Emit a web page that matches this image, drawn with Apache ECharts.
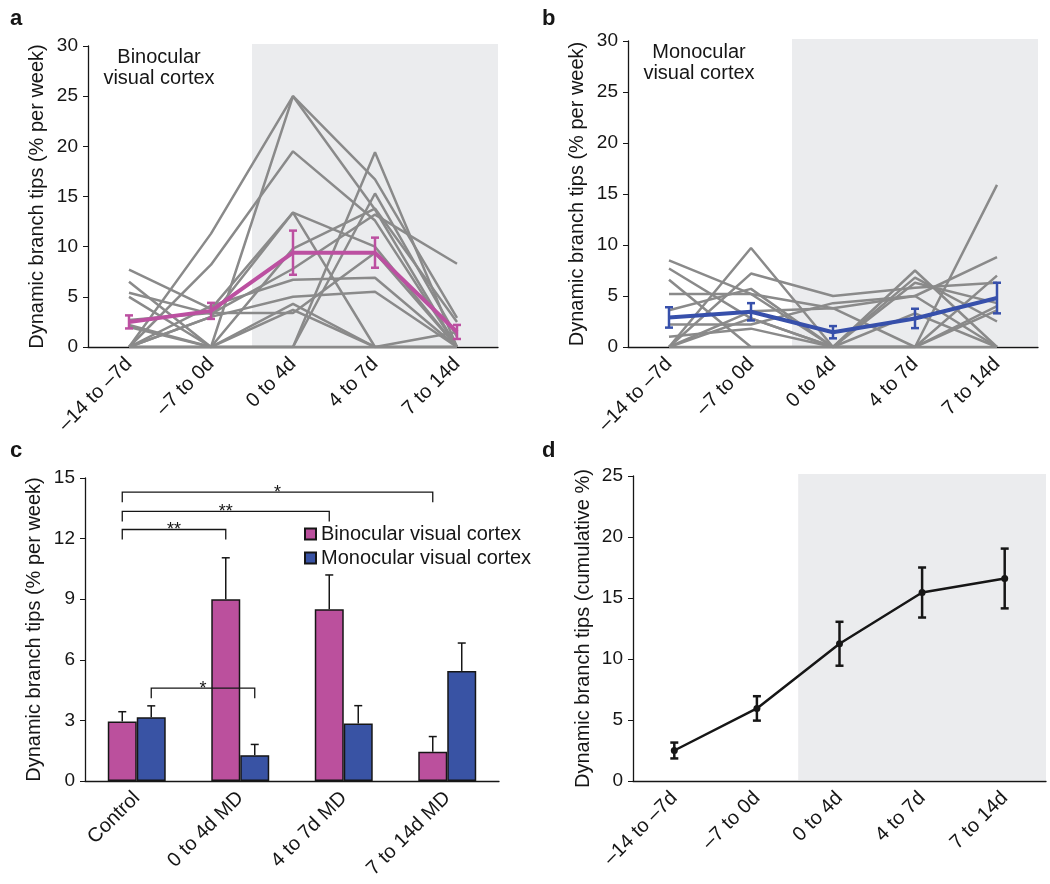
<!DOCTYPE html>
<html>
<head>
<meta charset="utf-8">
<script src="https://cdn.jsdelivr.net/npm/echarts@6/dist/echarts.min.js"></script>
<style>
  html, body { margin: 0; padding: 0; background: #fff; }
  #main { width: 1050px; height: 884px; }
</style>
</head>
<body>
<div id="main"></div>
<script>
// categories
const timeCats = ['–14 to –7d', '–7 to 0d', '0 to 4d', '4 to 7d', '7 to 14d']
const groupCats = ['Control', '0 to 4d MD', '4 to 7d MD', '7 to 14d MD']

// a: binocular, individual cells + mean / sem
const binoIndividual = [
  [0, 11.3, 25, 16.7, 2.9],
  [2.2, 0, 25, 13.7, 0],
  [0, 8.2, 19.5, 12.6, 0],
  [7.7, 3.8, 13.4, 10.0, 0],
  [0, 3.0, 13.4, 0, 0],
  [6.5, 0, 0, 19.4, 0],
  [0, 0, 0, 15.3, 1.0],
  [5.4, 3.3, 7.8, 13.2, 8.3],
  [5.0, 0, 9.8, 13.8, 2.5],
  [0, 4.1, 6.7, 6.9, 0],
  [2.7, 3.4, 3.4, 9.4, 0],
  [0, 0, 4.3, 0, 0],
  [0, 3.0, 5.0, 5.5, 0],
  [2.0, 0, 3.7, 0, 1.5],
  [0, 0, 0, 0, 0]
]
const binoMean = [2.5, 3.6, 9.4, 9.4, 1.5]
const binoSem = [0.65, 0.8, 2.2, 1.5, 0.7]

// b: monocular
const monoIndividual = [
  [8.5, 5.2, 0, 6.8, 2.5],
  [7.7, 2.8, 0, 0, 15.9],
  [6.6, 0, 0, 7.5, 0],
  [5.2, 5.2, 3.8, 5.0, 8.8],
  [0, 9.7, 0, 0, 7.0],
  [0, 7.2, 5.0, 5.8, 6.3],
  [3.6, 5.7, 0, 6.3, 4.3],
  [2.2, 2.2, 4.3, 5.0, 0],
  [1.0, 1.8, 0, 0, 3.6],
  [0, 3.5, 3.8, 0, 4.0],
  [0, 0, 0, 0, 0],
  [0, 2.8, 0, 3.3, 0]
]
const monoMean = [2.9, 3.45, 1.45, 2.8, 4.8]
const monoSem = [1.0, 0.85, 0.6, 0.95, 1.5]

// c: bars
const barBino = [2.95, 9.0, 8.5, 1.45]
const barBinoErr = [0.48, 2.05, 1.7, 0.75]
const barMono = [3.15, 1.28, 2.85, 5.45]
const barMonoErr = [0.57, 0.53, 0.88, 1.38]

// significance: [fromGroup, fromBar(0 bino,1 mono), toGroup, toBar]
const sigPairs = [[0, 0, 3, 0], [0, 0, 2, 0], [0, 0, 1, 0], [0, 1, 1, 1]]
const sigLevels = [14.3, 13.35, 12.45, 4.6]
const sigMarks = ['*', '**', '**', '*']

// d: cumulative
const cumMean = [2.5, 5.95, 11.25, 15.45, 16.6]
const cumSem = [0.65, 1.0, 1.8, 2.05, 2.45]

// MD period, in category units
const mdSpan = [1.5, 4.5]

const FONT = 'Liberation Sans, Arial, Helvetica, sans-serif'
const INK = '#161616'
const GRAY = '#8a8a8a'
const PINK = '#bc50a1'
const BLUE = '#3750ab'
const BAR_PINK = '#bb509d'
const BAR_BLUE = '#3953a4'
const SHADE = '#ebecee'
const BAR_FRAC = 0.28

const chart = echarts.init(document.getElementById('main'))

function yAxis(grid, max, interval, name, gap) {
  return {
    gridIndex: grid, type: 'value', min: 0, max: max, interval: interval,
    name: name, nameLocation: 'middle', nameGap: gap,
    nameTextStyle: { fontSize: 20, color: INK, fontFamily: FONT },
    axisLine: { show: true, onZero: false, lineStyle: { color: INK, width: 1.3 } },
    axisTick: { show: true, length: 5, lineStyle: { color: INK } },
    axisLabel: { fontSize: 19, color: INK, fontFamily: FONT, margin: 10 },
    splitLine: { show: false }
  }
}

function catAxis(grid, data) {
  return {
    gridIndex: grid, type: 'category', data: data, boundaryGap: true,
    axisLine: { onZero: false, lineStyle: { color: INK, width: 1.3 } },
    axisTick: { alignWithLabel: true, length: 5, lineStyle: { color: INK } },
    axisLabel: { rotate: 45, interval: 0, fontSize: 20, color: INK, fontFamily: FONT, margin: 14 }
  }
}

function hiddenAxis(grid) {
  return { gridIndex: grid, type: 'value', min: -0.5, max: 4.5, show: false }
}

function shadeSeries(xi, yi) {
  return {
    type: 'custom', xAxisIndex: xi, yAxisIndex: yi, silent: true, z: 1,
    data: [[mdSpan[0], mdSpan[1]]],
    encode: { x: [0, 1] },
    renderItem(params, api) {
      const cs = params.coordSys
      const x0 = api.coord([api.value(0), 0])[0]
      const x1 = api.coord([api.value(1), 0])[0]
      return {
        type: 'rect',
        shape: { x: x0, y: cs.y - 2, width: x1 - x0, height: cs.height + 1 },
        style: { fill: SHADE }
      }
    }
  }
}

function errSeries(xi, yi, mean, sem, color, lw, cap) {
  return {
    type: 'custom', xAxisIndex: xi, yAxisIndex: yi, silent: true, z: 6,
    data: mean.map((m, i) => [i, m, sem[i]]),
    encode: { x: 0, y: 1 },
    renderItem(params, api) {
      const i = api.value(0), m = api.value(1), e = api.value(2)
      const x = api.coord([i, m])[0]
      const hi = api.coord([i, m + e])[1]
      const lo = api.coord([i, m - e])[1]
      const st = { stroke: color, lineWidth: lw }
      return {
        type: 'group',
        children: [
          { type: 'line', shape: { x1: x, y1: hi, x2: x, y2: lo }, style: st },
          { type: 'line', shape: { x1: x - cap / 2, y1: hi, x2: x + cap / 2, y2: hi }, style: st },
          { type: 'line', shape: { x1: x - cap / 2, y1: lo, x2: x + cap / 2, y2: lo }, style: st }
        ]
      }
    }
  }
}

function individualSeries(rows, xi, yi) {
  return rows.map(r => ({
    type: 'line', xAxisIndex: xi, yAxisIndex: yi, data: r, symbol: 'none', silent: true, z: 2,
    lineStyle: { color: GRAY, width: 2.5 }
  }))
}

function barErrSeries(vals, errs, side) {
  return {
    type: 'custom', xAxisIndex: 2, yAxisIndex: 2, silent: true, z: 6,
    data: vals.map((v, i) => [i, v, errs[i]]),
    encode: { x: 0, y: 1 },
    renderItem(params, api) {
      const band = api.size([1, 0])[0]
      const i = api.value(0), v = api.value(1), e = api.value(2)
      const x = api.coord([i, 0])[0] + side * band * BAR_FRAC / 2
      const base = api.coord([i, v])[1]
      const top = api.coord([i, v + e])[1]
      const st = { stroke: INK, lineWidth: 1.5 }
      return {
        type: 'group',
        children: [
          { type: 'line', shape: { x1: x, y1: base, x2: x, y2: top }, style: st },
          { type: 'line', shape: { x1: x - 4, y1: top, x2: x + 4, y2: top }, style: st }
        ]
      }
    }
  }
}

const bracketSeries = {
  type: 'custom', xAxisIndex: 2, yAxisIndex: 2, silent: true, z: 7,
  data: sigPairs.map((p, i) => [p[0], p[1], p[2], p[3], sigLevels[i]]),
  encode: { x: 0, y: 4 },
  renderItem(params, api) {
    const band = api.size([1, 0])[0]
    const off = s => (s === 0 ? -1 : 1) * band * BAR_FRAC / 2
    const lvl = api.value(4)
    const a = api.coord([api.value(0), lvl])
    const b = api.coord([api.value(2), lvl])
    const drop = api.size([0, 0.5])[1]
    const x1 = a[0] + off(api.value(1))
    const x2 = b[0] + off(api.value(3))
    const y = a[1]
    return {
      type: 'group',
      children: [
        {
          type: 'polyline',
          shape: { points: [[x1, y + drop], [x1, y], [x2, y], [x2, y + drop]] },
          style: { stroke: INK, lineWidth: 1.3, fill: null }
        },
        {
          type: 'text', x: (x1 + x2) / 2, y: y + 1,
          style: { text: sigMarks[params.dataIndex], font: '18px ' + FONT, fill: INK, align: 'center', verticalAlign: 'middle' }
        }
      ]
    }
  }
}

function label(text, x, y, size, bold) {
  return {
    type: 'text', x: x, y: y, silent: true,
    style: {
      text: text, font: (bold ? 'bold ' : '') + size + 'px ' + FONT, fill: INK,
      align: bold ? 'left' : 'center', verticalAlign: 'middle', lineHeight: 21
    }
  }
}

chart.setOption({
  animation: false,
  backgroundColor: '#fff',
  grid: [
    { left: 88, top: 46, width: 410, height: 301, outerBoundsMode: 'none' },
    { left: 628, top: 41, width: 410, height: 306, outerBoundsMode: 'none' },
    { left: 85, top: 478, width: 414, height: 303, outerBoundsMode: 'none' },
    { left: 633, top: 476, width: 413, height: 305, outerBoundsMode: 'none' }
  ],
  xAxis: [
    catAxis(0, timeCats),
    catAxis(1, timeCats),
    catAxis(2, groupCats),
    catAxis(3, timeCats),
    hiddenAxis(0),
    hiddenAxis(1),
    hiddenAxis(3)
  ],
  yAxis: [
    yAxis(0, 30, 5, 'Dynamic branch tips (% per week)', 41),
    yAxis(1, 30, 5, 'Dynamic branch tips (% per week)', 41),
    yAxis(2, 15, 3, 'Dynamic branch tips (% per week)', 41),
    yAxis(3, 25, 5, 'Dynamic branch tips (cumulative %)', 40)
  ],
  legend: {
    data: ['Binocular visual cortex', 'Monocular visual cortex'],
    orient: 'vertical', left: 304, top: 524, padding: 0,
    itemWidth: 11, itemHeight: 11, itemGap: 4, icon: 'rect',
    textStyle: { fontSize: 20, color: INK, fontFamily: FONT }
  },
  graphic: [
    label('a', 10, 19, 22, true),
    label('b', 542, 19, 22, true),
    label('c', 10, 451, 22, true),
    label('d', 542, 451, 22, true),
    label('Binocular\nvisual cortex', 159, 68, 20),
    label('MD', 374, 70, 20),
    label('Monocular\nvisual cortex', 699, 63, 20),
    label('MD', 922, 72, 20),
    label('MD', 922, 501, 20)
  ],
  series: [
    // a
    shadeSeries(4, 0),
    ...individualSeries(binoIndividual, 0, 0),
    {
      type: 'line', xAxisIndex: 0, yAxisIndex: 0, data: binoMean, symbol: 'none', z: 5,
      lineStyle: { color: PINK, width: 4 }
    },
    errSeries(0, 0, binoMean, binoSem, PINK, 2.5, 8),
    // b
    shadeSeries(5, 1),
    ...individualSeries(monoIndividual, 1, 1),
    {
      type: 'line', xAxisIndex: 1, yAxisIndex: 1, data: monoMean, symbol: 'none', z: 5,
      lineStyle: { color: BLUE, width: 4 }
    },
    errSeries(1, 1, monoMean, monoSem, BLUE, 2.5, 8),
    // c
    {
      name: 'Binocular visual cortex', type: 'bar', xAxisIndex: 2, yAxisIndex: 2,
      data: barBino, barWidth: (BAR_FRAC * 100) + '%', barGap: '0%', z: 3,
      itemStyle: { color: BAR_PINK, borderColor: INK, borderWidth: 1.5 }
    },
    {
      name: 'Monocular visual cortex', type: 'bar', xAxisIndex: 2, yAxisIndex: 2,
      data: barMono, barWidth: (BAR_FRAC * 100) + '%', barGap: '0%', z: 3,
      itemStyle: { color: BAR_BLUE, borderColor: INK, borderWidth: 1.5 }
    },
    barErrSeries(barBino, barBinoErr, -1),
    barErrSeries(barMono, barMonoErr, 1),
    bracketSeries,
    // d
    shadeSeries(6, 3),
    {
      type: 'line', xAxisIndex: 3, yAxisIndex: 3, data: cumMean, symbol: 'circle', symbolSize: 7, z: 5,
      itemStyle: { color: INK }, lineStyle: { color: INK, width: 2.5 }
    },
    errSeries(3, 3, cumMean, cumSem, INK, 2.5, 8)
  ]
})
</script>
</body>
</html>
